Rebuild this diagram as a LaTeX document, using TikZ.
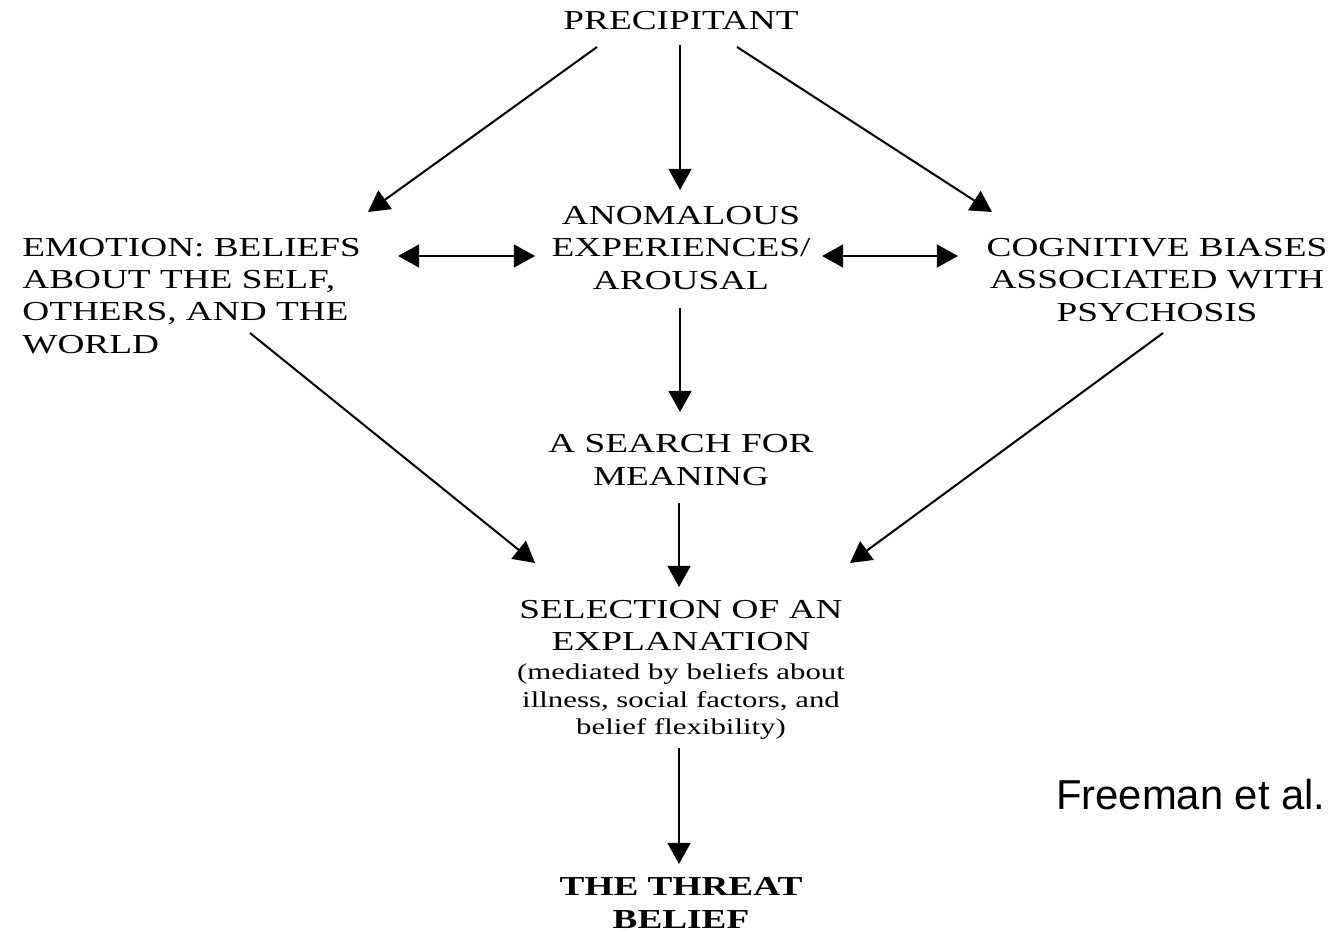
\documentclass[tikz,border=0pt]{standalone}
\usepackage{fontspec}
\usetikzlibrary{arrows.meta}
\newfontfamily\tnr{Liberation Serif}[FakeStretch=1.36]
\newfontfamily\arialf{Liberation Sans}
\newcommand\bigf{\tnr\fontsize{15.6pt}{18.3pt}\selectfont}
\newcommand\smallf{\tnr\fontsize{12.9pt}{15.6pt}\selectfont}
\begin{document}
\begin{tikzpicture}[x=0.02cm,y=-0.02cm,
  box/.style={inner sep=0pt, align=center, font=\bigf},
  arr/.style={line width=1.15pt, -{Triangle[length=12pt,width=13pt]}},
  darr/.style={line width=1.15pt, {Triangle[length=12pt,width=13pt]}-{Triangle[length=12pt,width=13pt]}}]
\useasboundingbox (0,0) rectangle (1338,932);
\node[box] (prec) at (681,21) {PRECIPITANT};
\node[box] (anom) at (681,248) {ANOMALOUS\\EXPERIENCES/\\AROUSAL};
\node[box, align=left, anchor=west] (emo) at (22,296) {EMOTION: BELIEFS\\ABOUT THE SELF,\\OTHERS, AND THE\\WORLD};
\node[box] (cog) at (1157,280) {COGNITIVE BIASES\\ASSOCIATED WITH\\PSYCHOSIS};
\node[box] (search) at (681,460) {A SEARCH FOR\\MEANING};
\node[box, anchor=north] (sel) at (681,600) {SELECTION OF AN\\EXPLANATION\\[-1.7pt]\smallf(mediated by beliefs about\\[-2.7pt]\smallf illness, social factors, and\\[-2.7pt]\smallf belief flexibility)};
\node[box, font=\bigf\bfseries] (threat) at (681,903) {THE THREAT\\BELIEF};
\node[inner sep=0pt, anchor=east, font=\arialf\fontsize{23.8pt}{28pt}\selectfont] (cite) at (1326,795) {Freeman et al.};

\draw[arr] ([shift={(-84,26)}]prec.center) -- ([shift={(346,-84)}]emo.west);
\draw[arr] ([shift={(-1,24)}]prec.center) -- ([shift={(-1,-58)}]anom.center);
\draw[arr] ([shift={(56,26)}]prec.center) -- ([shift={(-165,-68)}]cog.center);
\draw[darr] ([shift={(376,-40)}]emo.west) -- ([shift={(-146,8)}]anom.center);
\draw[darr] ([shift={(141,8)}]anom.center) -- ([shift={(-199,-24)}]cog.center);
\draw[arr] ([shift={(-1,60)}]anom.center) -- ([shift={(-1,-48)}]search.center);
\draw[arr] ([shift={(228,37)}]emo.west) -- ([shift={(-146,-37)}]sel.north);
\draw[arr] ([shift={(6,53)}]cog.center) -- ([shift={(169,-37)}]sel.north);
\draw[arr] ([shift={(-2,43)}]search.center) -- ([shift={(-2,-13)}]sel.north);
\draw[arr] ([shift={(-2,148)}]sel.north) -- ([shift={(-2,-39)}]threat.center);
\end{tikzpicture}
\end{document}
